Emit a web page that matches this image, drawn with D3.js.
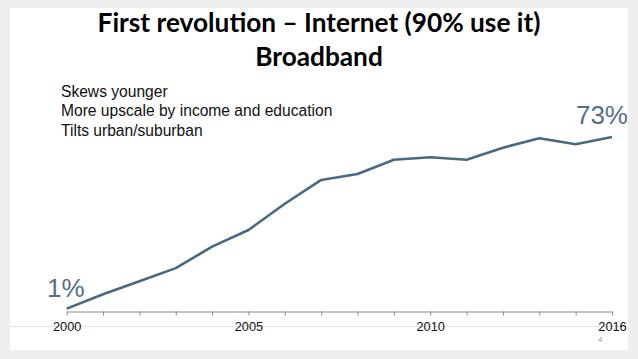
<!DOCTYPE html>
<html>
<head>
<meta charset="utf-8">
<script src="https://cdn.jsdelivr.net/npm/d3@7"></script>
<style>
  html, body { margin: 0; padding: 0; background: #efefef; }
  svg { display: block; }
</style>
</head>
<body>
<svg id="chart" width="638" height="359"></svg>
<script>
// ---- data ----
const categories = ["2000","2001","2002","2003","2004","2005","2006","2007","2008","2009","2010","2011","2012","2013","2015","2016"];
const values = [1, 7, 12.5, 18, 27, 34, 45, 55, 57.5, 63.5, 64.5, 63.5, 68.5, 72.5, 70, 73];
const tickLabels = ["2000","2005","2010","2016"];
const titleLines = ["First revolution \u2013 Internet (90% use it)", "Broadband"];
const notes = ["Skews younger", "More upscale by income and education", "Tilts urban/suburban"];
const startLabel = "1%";
const endLabel = "73%";
const pageNumber = "4";

// ---- drawing ----
const svg = d3.select("#chart");
const W = 638, H = 359;

// slide background
svg.append("rect").attr("x", 0).attr("y", 0).attr("width", W).attr("height", H).attr("fill", "#efefef");
svg.append("rect").attr("x", 10).attr("y", 8).attr("width", 618).attr("height", 342).attr("fill", "#ffffff");

const x = d3.scalePoint().domain(categories).range([66.7, 612]);
const y = d3.scaleLinear().domain([0, 100]).range([311, 72.7]);

// faint horizontal rule behind tick labels
svg.append("line")
  .attr("x1", 10).attr("x2", 628)
  .attr("y1", 326.5).attr("y2", 326.5)
  .attr("stroke", "#e4e4e4").attr("stroke-width", 1);

// title
const title = svg.append("g").attr("font-family", "Lato, 'Open Sans', sans-serif")
  .attr("font-weight", "bold").attr("fill", "#000");
const t1 = title.append("text").attr("x", 319).attr("y", 32).attr("text-anchor", "middle")
  .attr("font-size", 25).text(titleLines[0]);
// fit width to reference (~443px)
const w1 = t1.node().getComputedTextLength();
const fs = 25 * 443 / w1;
t1.attr("font-size", fs);
title.append("text").attr("x", 319).attr("y", 66).attr("text-anchor", "middle")
  .attr("font-size", fs).text(titleLines[1]);

// notes
svg.append("g").selectAll("text").data(notes).join("text")
  .attr("x", 61).attr("y", (d, i) => 96.5 + i * 19.5)
  .attr("font-family", "'Liberation Sans', Arial, sans-serif")
  .attr("font-size", 15.6).attr("fill", "#111")
  .text(d => d);

// axis
const axis = d3.axisBottom(x)
  .tickSizeInner(4).tickSizeOuter(0).tickPadding(6)
  .tickFormat(d => tickLabels.includes(d) ? d : "");
const ag = svg.append("g").attr("transform", `translate(0,${y(0) + 0.5})`).call(axis);
ag.select(".domain").attr("stroke", "#8a8a8a");
ag.selectAll(".tick line").attr("stroke", "#8a8a8a");
ag.selectAll(".tick text")
  .attr("font-family", "'Liberation Sans', Arial, sans-serif")
  .attr("font-size", 12.8).attr("fill", "#111");

// line
const line = d3.line().x((d, i) => x(categories[i])).y(d => y(d));
svg.append("path").datum(values)
  .attr("d", line)
  .attr("fill", "none")
  .attr("stroke", "#4a6882")
  .attr("stroke-width", 2.6)
  .attr("stroke-linejoin", "round");

// end labels
svg.append("text").attr("x", 47).attr("y", 297)
  .attr("font-family", "'Liberation Sans', Arial, sans-serif")
  .attr("font-size", 26).attr("fill", "#536f88").text(startLabel);
svg.append("text").attr("x", 628).attr("y", 123.5).attr("text-anchor", "end")
  .attr("font-family", "'Liberation Sans', Arial, sans-serif")
  .attr("font-size", 26).attr("fill", "#536f88").text(endLabel);

// page number
svg.append("text").attr("x", 598).attr("y", 342)
  .attr("font-family", "'Liberation Sans', Arial, sans-serif")
  .attr("font-size", 8).attr("fill", "#a0a0a0").text(pageNumber);
</script>
</body>
</html>
